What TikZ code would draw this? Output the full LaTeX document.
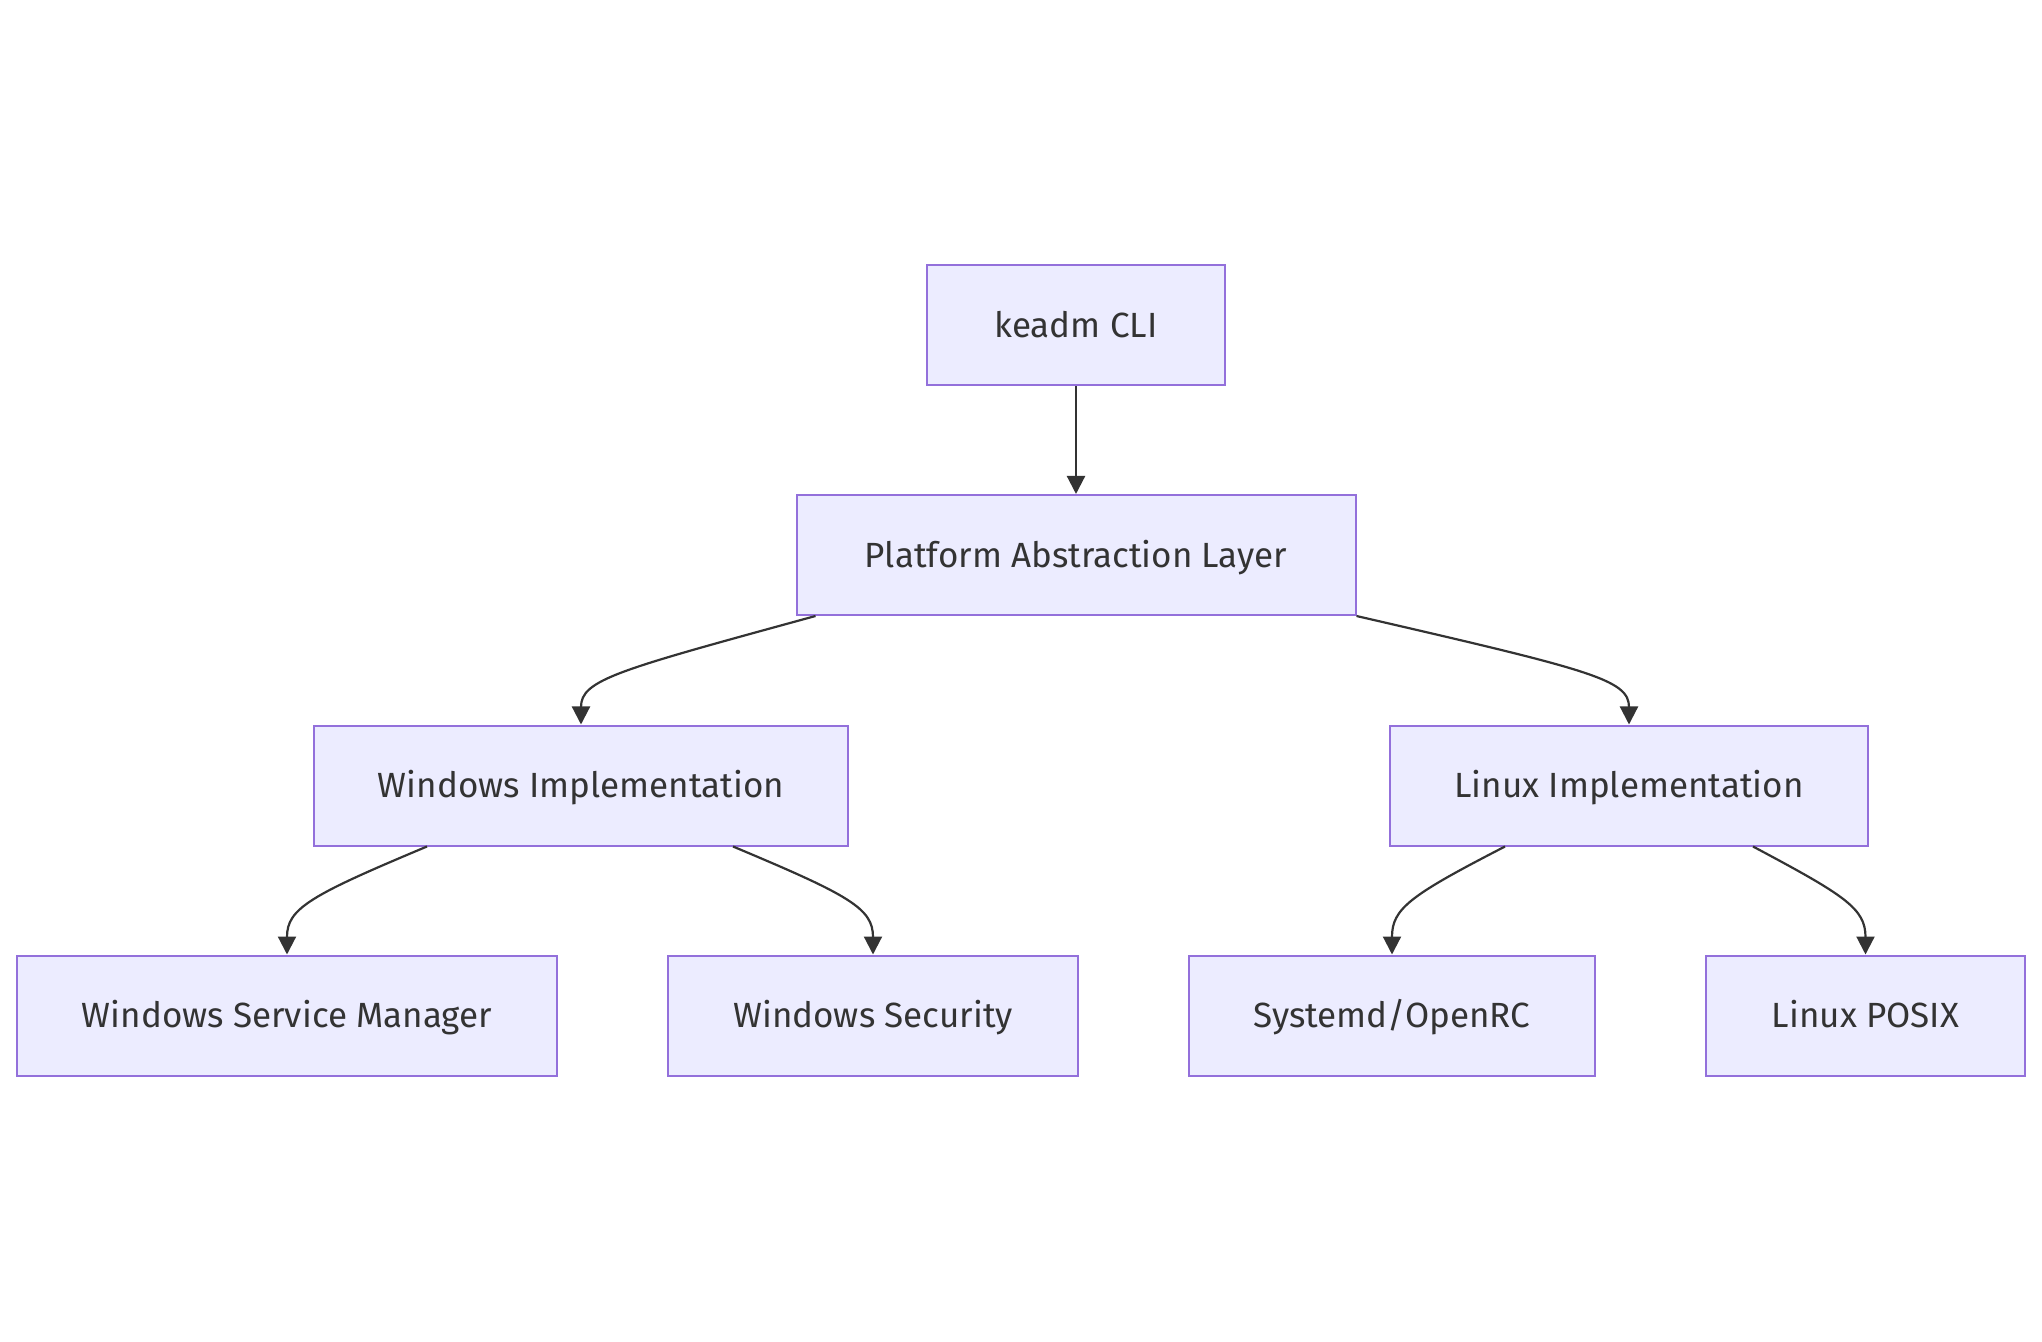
\documentclass[tikz,border=0pt]{standalone}
\usepackage{fontspec}
\setmainfont{Fira Sans}
\usepackage{tikz}
\usetikzlibrary{arrows.meta}
\definecolor{boxfill}{HTML}{ECECFF}
\definecolor{boxline}{HTML}{9370DB}
\definecolor{ink}{HTML}{333333}

\begin{document}
\begin{tikzpicture}[x=0.5pt, y=-0.5pt, >={Triangle[length=9pt,width=9pt]},
    bnode/.style={draw=boxline, fill=boxfill, line width=1pt, rectangle, inner sep=0pt, minimum height=60pt, text=ink, text height=14pt, text depth=1.8pt, font=\fontsize{17.5}{21}\selectfont},
    link/.style={draw=ink, line width=1.1pt, ->}]
    \useasboundingbox (0,0) rectangle (2042,1342);

    \node[bnode, minimum width=149pt] (cli) at (1076, 325.5) {keadm CLI};
    \node[bnode, minimum width=279.5pt] (pal) at (1076, 555) {Platform Abstraction Layer};
    \node[bnode, minimum width=267pt] (win) at (581, 785.5) {Windows Implementation};
    \node[bnode, minimum width=239pt] (lin) at (1629, 785.5) {Linux Implementation};
    \node[bnode, minimum width=270pt] (wsm) at (287, 1015.5) {Windows Service Manager};
    \node[bnode, minimum width=205pt] (wsec) at (873, 1015.5) {Windows Security};
    \node[bnode, minimum width=203pt] (sysd) at (1392, 1015.5) {Systemd/OpenRC};
    \node[bnode, minimum width=159.5pt] (posix) at (1865.5, 1015.5) {Linux POSIX};

    \draw[link] (cli) -- (pal);
    \draw[link] ([xshift=10pt]pal.south west) .. controls +(-197,54) and +(0,-45) .. (win.north);
    \draw[link] (pal.south east) .. controls +(234,54) and +(0,-45) .. (lin.north);

    \draw[link] ([xshift=-77pt]win.south) .. controls +(-117,49) and +(0,-46) .. (wsm.north);
    \draw[link] ([xshift=76pt]win.south) .. controls +(117,49) and +(0,-46) .. (wsec.north);
    \draw[link] ([xshift=-62pt]lin.south) .. controls +(-95,49) and +(0,-46) .. (sysd.north);
    \draw[link] ([xshift=62pt]lin.south) .. controls +(92,49) and +(0,-46) .. (posix.north);
\end{tikzpicture}
\end{document}
